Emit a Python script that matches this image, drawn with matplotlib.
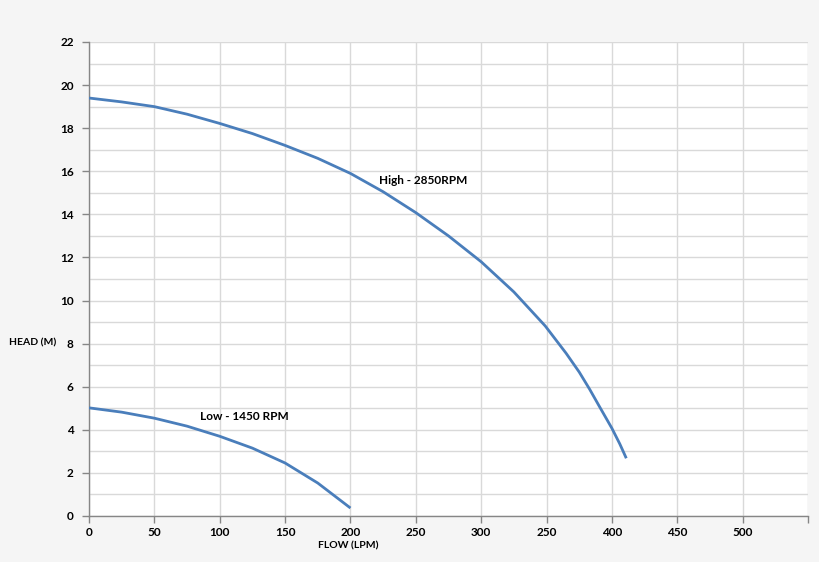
import matplotlib.pyplot as plt
import numpy as np

# Pump curves
high_flow = [0, 25, 50, 75, 100, 125, 150, 175, 200, 225, 250, 275, 300,
             325, 349, 365, 375, 383, 390, 400, 406, 411]
high_head = [19.4, 19.22, 19.0, 18.65, 18.22, 17.75, 17.2, 16.6, 15.9, 15.05,
             14.08, 13.0, 11.8, 10.4, 8.82, 7.55, 6.68, 5.88, 5.13, 4.07, 3.35, 2.68]
low_flow = [0, 25, 50, 75, 100, 125, 150, 175, 200]
low_head = [5.02, 4.82, 4.54, 4.17, 3.7, 3.15, 2.46, 1.53, 0.37]

x_ticks = [0, 50, 100, 150, 200, 250, 300, 350, 400, 450, 500, 550]
x_labels = ["0", "50", "100", "150", "200", "250", "300", "250", "400", "450", "500", ""]
y_ticks = np.arange(0, 23, 2)

plt.rcParams["font.family"] = ["Lato", "DejaVu Sans"]
plt.rcParams["font.weight"] = "bold"

fig = plt.figure(figsize=(8.2, 5.62), dpi=100, facecolor="#f5f5f5")
ax = fig.add_axes([89 / 820, 46 / 562, 719 / 820, 474 / 562])
ax.set_facecolor("white")

line_color = "#4a7ebb"
ax.plot(high_flow, high_head, color=line_color, lw=2.0, solid_capstyle="butt",
        solid_joinstyle="round", zorder=3)
ax.plot(low_flow, low_head, color=line_color, lw=2.0, solid_capstyle="butt",
        solid_joinstyle="round", zorder=3)

ax.text(256, 15.55, "High - 2850RPM", fontsize=8.5, fontweight="bold", ha="center", va="center")
ax.text(119, 4.6, "Low - 1450 RPM", fontsize=8.5, fontweight="bold", ha="center", va="center")

ax.set_xlim(0, 550)
ax.set_ylim(0, 22)
ax.set_xticks(x_ticks)
ax.set_xticklabels(x_labels)
ax.set_yticks(y_ticks)
ax.set_yticks(np.arange(0, 23, 1), minor=True)
ax.tick_params(axis="y", which="minor", length=0)
ax.tick_params(axis="both", which="major", labelsize=8.5, color="#868686", length=5, width=1)
ax.tick_params(axis="y", pad=6)
ax.tick_params(axis="x", pad=3)

ax.grid(True, which="both", axis="y", color="#d9d9d9", lw=1)
ax.grid(True, which="major", axis="x", color="#d9d9d9", lw=1)
ax.set_axisbelow(True)

for side in ["top", "right"]:
    ax.spines[side].set_visible(False)
for side in ["left", "bottom"]:
    ax.spines[side].set_color("#868686")
    ax.spines[side].set_linewidth(1)

fig.text(33 / 820, 1 - 343 / 562, "HEAD (M)", fontsize=7.5, fontweight="bold", ha="center", va="center")
fig.text(348 / 820, 1 - 546 / 562, "FLOW (LPM)", fontsize=7.5, fontweight="bold", ha="center", va="center")

fig.savefig("out.png", dpi=100, facecolor=fig.get_facecolor())
